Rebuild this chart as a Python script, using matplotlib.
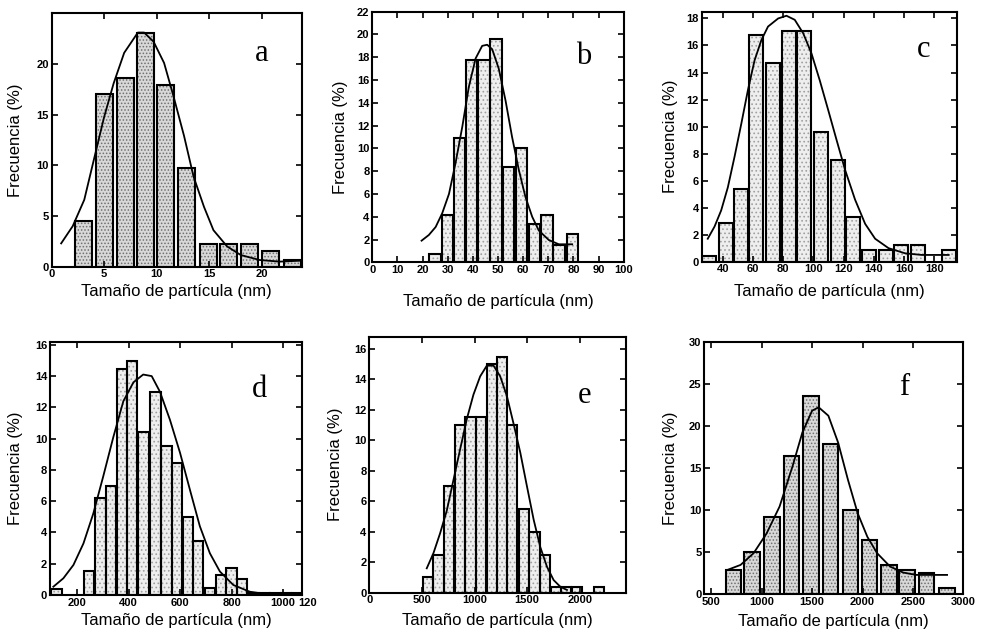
import matplotlib
matplotlib.use("Agg")
import matplotlib.pyplot as plt

plt.rcParams['font.family'] = ['Liberation Sans', 'DejaVu Sans']
plt.rcParams['hatch.linewidth'] = 0.7

# --- panel a ---
a_x = [3, 5, 7, 8.9, 10.8, 12.8, 14.9, 16.8, 18.8, 20.8, 22.9]
a_h = [4.5, 17.0, 18.6, 23.1, 17.9, 9.7, 2.2, 2.2, 2.2, 1.5, 0.7]
a_cx = [0.9, 2.0, 3.1, 4.0, 5.0, 5.9, 6.9, 8.2, 8.8, 9.7, 10.7, 11.6, 12.6, 13.5,
        14.5, 15.4, 16.7, 18.0, 19.8, 21.7, 23.8]
a_cy = [2.3, 4.0, 6.6, 10.5, 14.8, 18.1, 21.1, 23.1, 23.1, 22.2, 20.1, 16.8, 12.9,
        8.9, 5.9, 3.6, 2.0, 1.15, 0.66, 0.5, 0.6]

# --- panel b ---
b_x = [25, 30, 34.8, 39.4, 44.4, 49.2, 54.1, 59.3, 64.6, 69.5, 74.3, 79.7]
b_h = [0.7, 4.15, 10.9, 17.8, 17.8, 19.6, 8.4, 10.0, 3.4, 4.15, 1.5, 2.5]
b_cx = [19.6, 22.5, 25.2, 27.8, 30.5, 33.1, 35.8, 38.4, 41.1, 43.7, 45.7, 47.7, 50.3,
        53.0, 55.6, 58.3, 60.9, 63.6, 66.2, 70.2, 74.2, 79.5]
b_cy = [1.9, 2.4, 3.1, 4.3, 6.0, 8.7, 11.9, 15.4, 17.9, 19.0, 19.1, 18.7, 17.0, 14.2,
        11.0, 8.1, 5.75, 4.0, 2.8, 1.96, 1.58, 1.58]

# --- panel c ---
c_x = [31, 42, 52, 62, 73, 84, 94, 105, 116, 126, 137, 148, 158, 169, 190]
c_h = [0.4, 2.9, 5.4, 16.8, 14.7, 17.1, 17.1, 9.6, 7.5, 3.3, 0.85, 0.85, 1.2, 1.2, 0.85]
c_cx = [30.0, 34.5, 38.9, 43.3, 47.8, 52.2, 56.6, 61.0, 65.5, 69.9, 76.6, 82.1, 87.6,
        93.2, 98.7, 104.2, 109.8, 115.3, 120.9, 127.5, 134.2, 140.8, 149.7, 160.7,
        171.8, 189.5]
c_cy = [1.7, 2.6, 3.8, 5.5, 7.8, 10.2, 12.7, 14.9, 16.4, 17.4, 18.0, 18.2, 17.9, 16.9,
        15.4, 13.4, 11.2, 9.0, 6.8, 4.6, 2.8, 1.7, 1.0, 0.62, 0.5, 0.5]

# --- panel d ---
d_x = [120, 247, 291, 333, 374, 413, 458, 505, 548, 589, 631, 671, 716, 758, 800, 842,
       885, 928, 970, 1012, 1054]
d_h = [0.36, 1.55, 6.2, 7.0, 14.45, 14.95, 10.45, 13.0, 9.5, 8.45, 5.0, 3.45, 0.45,
       1.3, 1.75, 1.0, 0.12, 0.12, 0.12, 0.12, 0.12]
d_cx = [108, 147, 186, 225, 263, 302, 341, 380, 419, 457, 490, 522, 561, 600, 639, 677,
        716, 755, 807, 871, 936, 1075]
d_cy = [0.53, 1.07, 1.92, 3.3, 5.2, 7.6, 10.1, 12.4, 13.6, 14.1, 14.0, 13.0, 11.2, 9.1,
        6.7, 4.4, 2.67, 1.5, 0.64, 0.21, 0.06, 0.0]

# --- panel e ---
e_x = [562, 658, 756, 858, 962, 1065, 1165, 1260, 1360, 1468, 1570, 1670, 1771, 1870,
       1970, 2180]
e_h = [1.0, 2.5, 7.0, 11.0, 11.5, 11.5, 15.0, 15.5, 11.0, 5.5, 4.0, 2.5, 0.4, 0.4, 0.4,
       0.4]
e_cx = [546, 610, 673, 737, 800, 863, 927, 990, 1054, 1117, 1181, 1244, 1308, 1371,
        1435, 1498, 1562, 1625, 1689, 1752, 1816, 1879]
e_cy = [1.6, 2.6, 3.9, 5.4, 7.4, 9.4, 11.4, 13.0, 14.2, 14.9, 14.9, 14.2, 12.9, 11.1,
        9.2, 7.0, 4.8, 3.0, 1.7, 0.83, 0.39, 0.18]

# --- panel f ---
f_x = [721, 906, 1100, 1294, 1487, 1684, 1882, 2071, 2261, 2444, 2634, 2839]
f_h = [2.8, 5.0, 9.15, 16.4, 23.5, 17.8, 9.95, 6.45, 3.45, 2.85, 2.45, 0.7]
f_cx = [661, 790, 919, 1048, 1177, 1306, 1403, 1500, 1565, 1661, 1758, 1855, 1952, 2048,
        2145, 2274, 2403, 2532, 2694, 2839]
f_cy = [2.87, 3.46, 4.85, 7.2, 10.4, 15.2, 19.2, 21.8, 22.2, 21.2, 18.0, 13.6, 9.6, 6.8,
        4.85, 3.26, 2.55, 2.27, 2.27, 2.27]

W, H = 983, 639
fig = plt.figure(figsize=(W / 100, H / 100), dpi=100)


def make_ax(l, r, t, b):
    return fig.add_axes([l / W, 1 - b / H, (r - l) / W, (b - t) / H])


panels = [
    dict(box=(51.7, 301.7, 13.3, 266.7), x=a_x, h=a_h, cx=a_cx, cy=a_cy, w=1.6,
         xlim=(0, 23.8), ylim=(0, 25), xt=[0, 5, 10, 15, 20], yt=[0, 5, 10, 15, 20],
         letter='a', lp=(0.84, 0.84), dense=True, ylx=-0.115, xly=-0.07),
    dict(box=(372.3, 623.7, 11.7, 262.3), x=b_x, h=b_h, cx=b_cx, cy=b_cy, w=4.5,
         xlim=(0, 100), ylim=(0, 22), xt=list(range(0, 101, 10)), yt=list(range(0, 23, 2)),
         letter='b', lp=(0.84, 0.82), dense=False, ylx=-0.097, xly=-0.128),
    dict(box=(701.7, 957.0, 11.7, 261.7), x=c_x, h=c_h, cx=c_cx, cy=c_cy, w=9.2,
         xlim=(26, 195), ylim=(0, 18.5), xt=list(range(40, 181, 20)), yt=list(range(0, 19, 2)),
         letter='c', lp=(0.87, 0.85), dense=False, ylx=-0.093, xly=-0.091),
    dict(box=(50.0, 302.3, 341.7, 595.0), x=d_x, h=d_h, cx=d_cx, cy=d_cy, w=40,
         xlim=(95, 1075), ylim=(0, 16.2), xt=[200, 400, 600, 800, 1000], yt=list(range(0, 17, 2)),
         letter='d', lp=(0.83, 0.81), dense=False, ylx=-0.107, xly=-0.071),
    dict(box=(369.3, 626.0, 336.7, 592.7), x=e_x, h=e_h, cx=e_cx, cy=e_cy, w=96,
         xlim=(0, 2440), ylim=(0, 16.8), xt=[0, 500, 1000, 1500, 2000], yt=list(range(0, 17, 2)),
         letter='e', lp=(0.84, 0.77), dense=False, ylx=-0.102, xly=-0.079),
    dict(box=(704.3, 963.3, 341.7, 594.0), x=f_x, h=f_h, cx=f_cx, cy=f_cy, w=155,
         xlim=(430, 3000), ylim=(0, 30), xt=list(range(500, 3001, 500)), yt=list(range(0, 31, 5)),
         letter='f', lp=(0.77, 0.82), dense=True, ylx=-0.10, xly=-0.081),
]

for p in panels:
    ax = make_ax(*p['box'])
    if p['dense']:
        face, hc, hatch = '#d8d8d8', '#707070', '.....'
    else:
        face, hc, hatch = '#eeeeee', '#a0a0a0', '....'
    ax.bar(p['x'], p['h'], width=p['w'], color=face, hatch=hatch, edgecolor=hc,
           linewidth=0, zorder=1)
    ax.bar(p['x'], p['h'], width=p['w'], fill=False, edgecolor='black',
           linewidth=1.5, zorder=2)
    ax.plot(p['cx'], p['cy'], color='black', linewidth=1.3, zorder=3)

    ax.set_xlim(*p['xlim'])
    ax.set_ylim(*p['ylim'])
    ax.set_xticks(p['xt'])
    ax.set_yticks(p['yt'])
    ax.tick_params(direction='in', length=4, width=1.2, top=True, right=True,
                   labelsize=8, pad=2)
    for lab in ax.get_xticklabels() + ax.get_yticklabels():
        lab.set_fontweight('bold')
    for s in ax.spines.values():
        s.set_linewidth(1.5)

    ax.set_xlabel('Tamaño de partícula (nm)', fontsize=12)
    ax.set_ylabel('Frecuencia (%)', fontsize=12)
    ax.xaxis.set_label_coords(0.5, p['xly'])
    ax.yaxis.set_label_coords(p['ylx'], 0.5)
    ax.text(p['lp'][0], p['lp'][1], p['letter'], transform=ax.transAxes,
            fontsize=22, family='Liberation Serif', ha='center', va='center')

    if p['letter'] == 'd':
        ax.text(0.985, -0.012, '120', transform=ax.transAxes, fontsize=8,
                fontweight='bold', ha='left', va='top')

fig.savefig('out.png', dpi=100)
